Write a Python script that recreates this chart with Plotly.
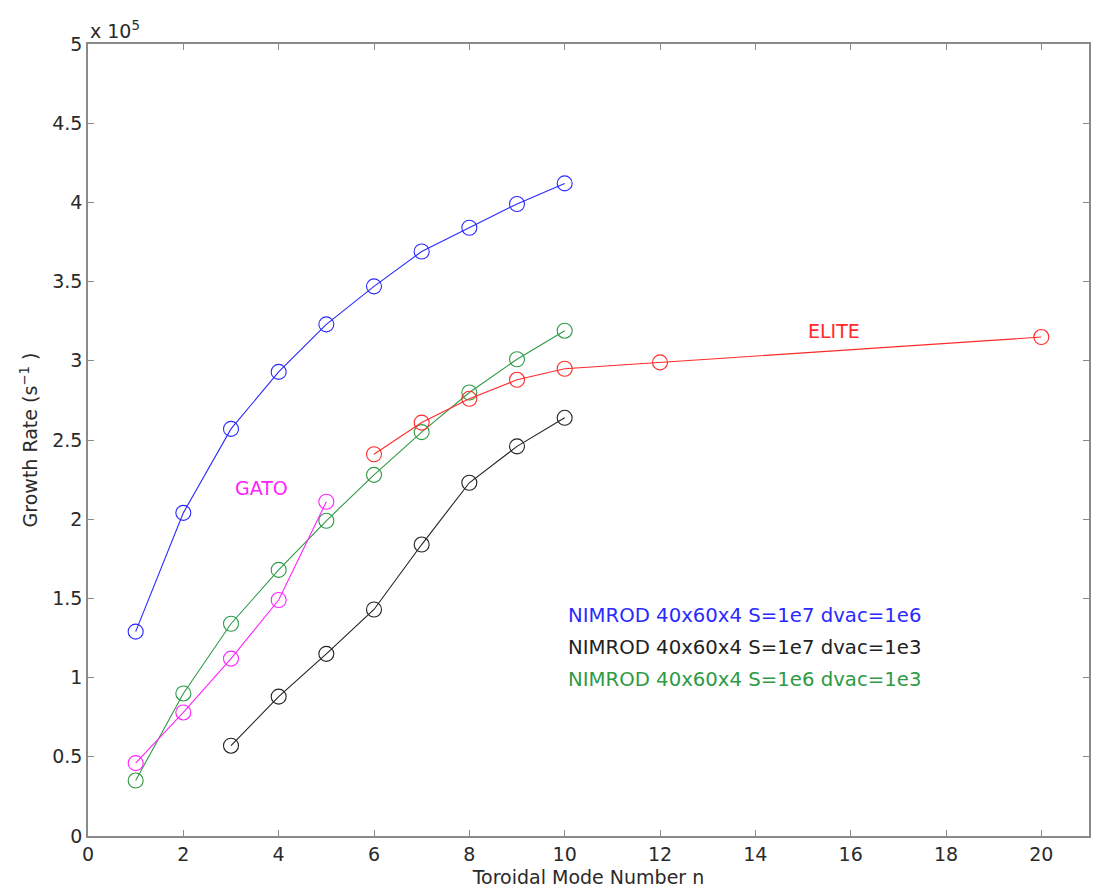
import plotly.graph_objects as go

# Growth rate (units of 1e5 s^-1) versus toroidal mode number n
n_nimrod = [1, 2, 3, 4, 5, 6, 7, 8, 9, 10]
gr_s1e7_dvac1e6 = [1.29, 2.04, 2.57, 2.93, 3.23, 3.47, 3.69, 3.84, 3.99, 4.12]
n_black = [3, 4, 5, 6, 7, 8, 9, 10]
gr_s1e7_dvac1e3 = [0.57, 0.88, 1.15, 1.43, 1.84, 2.23, 2.46, 2.64]
gr_s1e6_dvac1e3 = [0.35, 0.90, 1.34, 1.68, 1.99, 2.28, 2.55, 2.80, 3.01, 3.19]

n_gato = [1, 2, 3, 4, 5]
gr_gato = [0.46, 0.78, 1.12, 1.49, 2.11]

n_elite = [6, 7, 8, 9, 10, 12, 20]
gr_elite = [2.41, 2.61, 2.76, 2.88, 2.95, 2.99, 3.15]

x_ticks = [0, 2, 4, 6, 8, 10, 12, 14, 16, 18, 20]
y_ticks = [0, 0.5, 1, 1.5, 2, 2.5, 3, 3.5, 4, 4.5, 5]
y_tick_text = ["0", "0.5", "1", "1.5", "2", "2.5", "3", "3.5", "4", "4.5", "5"]

BLUE = "#2a2aff"
BLACK = "#222222"
GREEN = "#2e9a45"
RED = "#ff2a2a"
MAGENTA = "#ff22ff"

FONT = "DejaVu Sans, Liberation Sans, Arial, sans-serif"
TXT = "#2a2a2a"

fig = go.Figure()


def add_series(x, y, color):
    fig.add_trace(go.Scatter(
        x=x, y=y, mode="lines+markers",
        line=dict(color=color, width=1.1),
        marker=dict(symbol="circle-open", size=15, color=color,
                    line=dict(color=color, width=1.1)),
        showlegend=False,
    ))


add_series(n_nimrod, gr_s1e7_dvac1e6, BLUE)
add_series(n_black, gr_s1e7_dvac1e3, BLACK)
add_series(n_nimrod, gr_s1e6_dvac1e3, GREEN)
add_series(n_elite, gr_elite, RED)
add_series(n_gato, gr_gato, MAGENTA)

axis_common = dict(
    showgrid=False, zeroline=False, showline=True, linecolor="#8a8a8a",
    linewidth=1.5, mirror="ticks", ticks="inside", ticklen=6,
    tickcolor="#8a8a8a", tickwidth=1.2,
    tickfont=dict(family=FONT, size=19, color=TXT),
)

fig.update_xaxes(range=[0, 21], tickvals=x_ticks,
                 title=dict(text="Toroidal Mode Number n", standoff=7,
                            font=dict(family=FONT, size=19, color=TXT)),
                 **axis_common)
fig.update_yaxes(range=[0, 5], tickvals=y_ticks, ticktext=y_tick_text,
                 title=dict(text="Growth Rate (s<sup>\u22121</sup> )", standoff=10,
                            font=dict(family=FONT, size=19, color=TXT)),
                 **axis_common)

annotations = [
    dict(x=0, y=1, xref="paper", yref="paper", xanchor="left", yanchor="bottom",
         text="x 10<sup>5</sup>", showarrow=False, yshift=0,
         font=dict(family=FONT, size=19, color=TXT)),
    dict(x=3.65, y=2.2, xref="x", yref="y", text="GATO", showarrow=False,
         font=dict(family=FONT, size=19, color=MAGENTA)),
    dict(x=15.65, y=3.19, xref="x", yref="y", text="ELITE", showarrow=False,
         font=dict(family=FONT, size=19, color=RED)),
    dict(x=10.03, y=1.395, xref="x", yref="y", xanchor="left",
         text="NIMROD 40x60x4 S=1e7 dvac=1e6", showarrow=False,
         font=dict(family=FONT, size=19.7, color=BLUE)),
    dict(x=10.03, y=1.193, xref="x", yref="y", xanchor="left",
         text="NIMROD 40x60x4 S=1e7 dvac=1e3", showarrow=False,
         font=dict(family=FONT, size=19.7, color=BLACK)),
    dict(x=10.03, y=0.991, xref="x", yref="y", xanchor="left",
         text="NIMROD 40x60x4 S=1e6 dvac=1e3", showarrow=False,
         font=dict(family=FONT, size=19.7, color=GREEN)),
]

fig.update_layout(
    width=1096, height=893,
    margin=dict(l=88, r=5, t=44, b=57),
    paper_bgcolor="white", plot_bgcolor="white",
    annotations=annotations,
)

fig.write_html("out.html")
